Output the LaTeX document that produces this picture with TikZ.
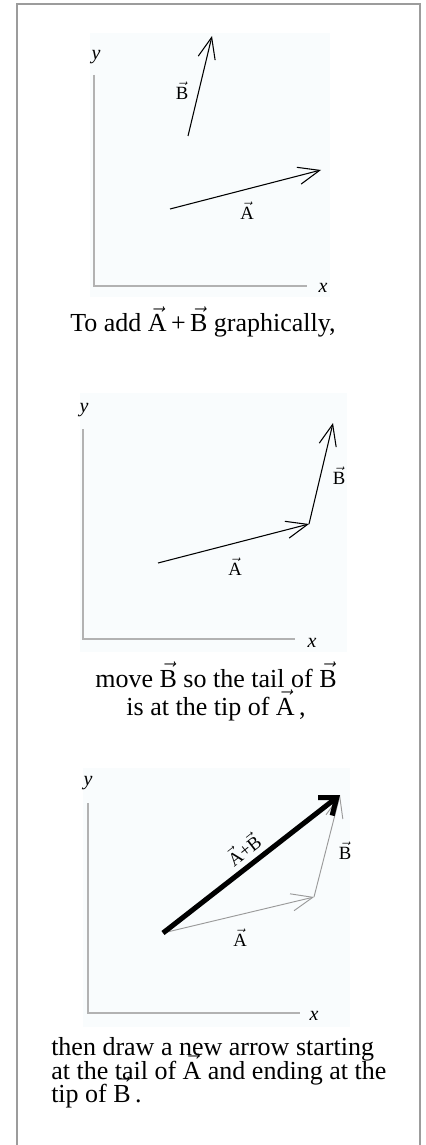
\documentclass[tikz,border=0pt]{standalone}
\usepackage{fontspec}
\setmainfont{Liberation Serif}
\usetikzlibrary{arrows.meta}
\newcommand\myvA{\ensuremath{\vec{\hbox{A}}}}
\newcommand\myvB{\ensuremath{\vec{\hbox{B}}}}
\definecolor{panelbg}{HTML}{F9FCFD}
\definecolor{axisgray}{HTML}{B2B2B2}
\definecolor{framegray}{HTML}{9C9C9C}
\definecolor{vecgray}{HTML}{9A9A9A}
\begin{document}
\begin{tikzpicture}[x=0.75pt,y=-0.75pt,
  panel/.style={fill=panelbg,draw=none},
  axisline/.style={draw=axisgray,line width=1.6pt},
  vecarrow/.style={draw=black,line width=0.8pt,-{Straight Barb[length=16pt,width=13pt]}},
  grayvec/.style={vecarrow,draw=vecgray,line width=0.7pt},
  sumvec/.style={draw=black,line width=3.8pt,-{Straight Barb[length=11pt,width=17pt]}},
  lbl/.style={font=\fontsize{14}{16}\selectfont,inner sep=0pt},
  axlbl/.style={font=\fontsize{15}{16}\selectfont\itshape,inner sep=0pt},
  captext/.style={font=\fontsize{19.5}{21}\selectfont,inner sep=0pt}]
\useasboundingbox (0,0) rectangle (425,1145);
% frame
\draw[framegray,line width=1.2pt] (17,1146) -- (17,4) -- (420,4) -- (420,1146);

% ---------- panel 1 ----------
\fill[panel] (90,33) rectangle (330,297);
\coordinate (y1top) at (94,75);
\coordinate (o1) at (94,286);
\coordinate (x1end) at (307,286);
\draw[axisline] (y1top) -- (o1) -- (x1end);
\node[axlbl] (ylab1) at (96,57) {y};
\node[axlbl] (xlab1) at (323,288) {x};
\coordinate (a1t) at (170,209);
\coordinate (a1h) at (321,170);
\coordinate (b1t) at (188,136);
\coordinate (b1h) at (212,36);
\draw[vecarrow] (a1t) -- (a1h);
\draw[vecarrow] (b1t) -- (b1h);
\node[lbl] (lb1) at (182,91) {\myvB};
\node[lbl] (la1) at (247,211) {\myvA};
\node[captext] (cap1) at (203,322) {To add \myvA\,{+}\,\myvB\ graphically,};

% ---------- panel 2 ----------
\fill[panel] (80,393) rectangle (347,652);
\coordinate (y2top) at (83,429);
\coordinate (o2) at (83,639);
\coordinate (x2end) at (295,639);
\draw[axisline] (y2top) -- (o2) -- (x2end);
\node[axlbl] (ylab2) at (84,410) {y};
\node[axlbl] (xlab2) at (312,643) {x};
\coordinate (a2t) at (158,563);
\coordinate (a2h) at (309,524);
\coordinate (b2h) at (333,423);
\draw[vecarrow] (a2t) -- (a2h);
\draw[vecarrow] (a2h) -- (b2h);
\node[lbl] (lb2) at (339,476) {\myvB};
\node[lbl] (la2) at (235,567) {\myvA};
\node[captext,anchor=base] (cap2a) at (216,687) {move \myvB\ so the tail of \myvB};
\node[captext,anchor=base] (cap2b) at (216,715) {is at the tip of \myvA\,,};

% ---------- panel 3 ----------
\fill[panel] (83,768) rectangle (350,1027);
\coordinate (y3top) at (88,803);
\coordinate (o3) at (88,1013);
\coordinate (x3end) at (300,1013);
\draw[axisline] (y3top) -- (o3) -- (x3end);
\node[axlbl] (ylab3) at (88,783) {y};
\node[axlbl] (xlab3) at (314,1016) {x};
\coordinate (a3t) at (163,933);
\coordinate (a3h) at (314,897);
\coordinate (b3h) at (340,795);
\draw[grayvec] (a3t) -- (a3h);
\draw[grayvec] (a3h) -- (b3h);
\draw[sumvec] (a3t) -- (b3h);
\node[lbl,rotate=38] (lsum) at (243,849) {\myvA{+}\myvB};
\node[lbl] (lb3) at (345,851) {\myvB};
\node[lbl] (la3) at (240,938) {\myvA};
\node[captext,anchor=base west] (cap3a) at (51,1055) {then draw a new arrow starting};
\node[captext,anchor=base west] (cap3b) at (51,1079) {at the tail of \myvA\ and ending at the};
\node[captext,anchor=base west] (cap3c) at (51,1102) {tip of \myvB\,.};
\end{tikzpicture}
\end{document}
